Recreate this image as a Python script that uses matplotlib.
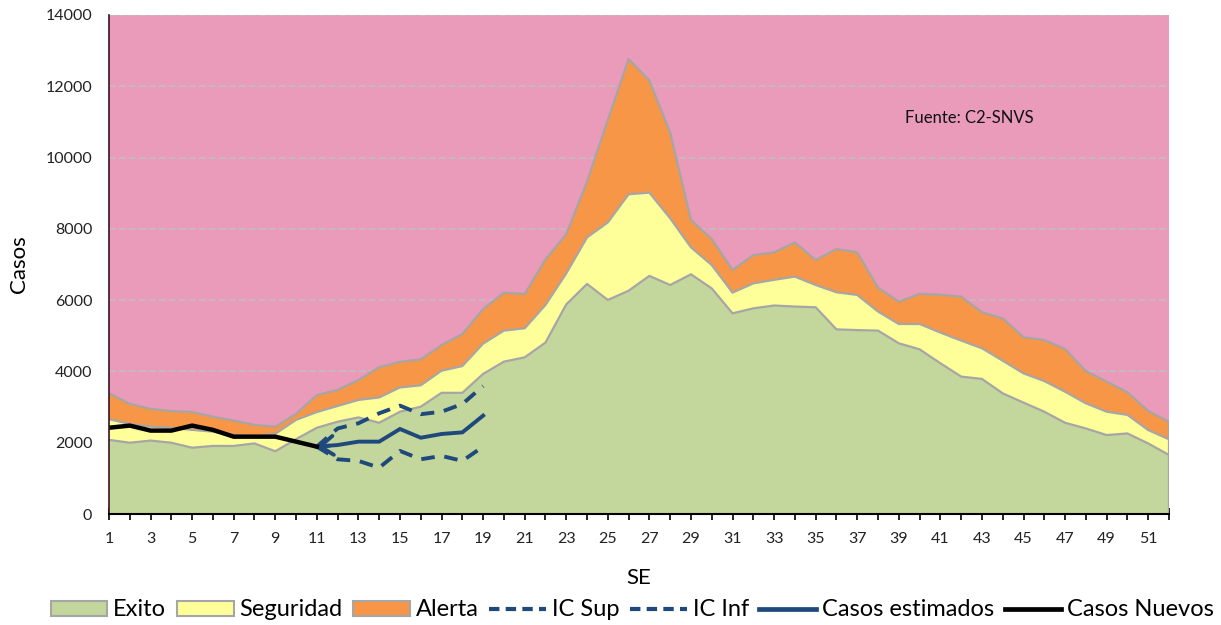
import matplotlib
matplotlib.use("Agg")
import matplotlib.pyplot as plt
from matplotlib.patches import Patch
from matplotlib.lines import Line2D
import numpy as np

# ---------------- data ----------------
weeks = list(range(1, 53))
# upper bounds of each endemic-channel zone (cases)
exito = [2080, 2000, 2060, 2000, 1860, 1910, 1910, 1980, 1760, 2100,
         2420, 2590, 2710, 2560, 2870, 3010, 3400, 3400, 3930, 4275,
         4395, 4810, 5880, 6455, 6005, 6265, 6680, 6425, 6725, 6330,
         5630, 5770, 5850, 5820, 5800, 5180, 5160, 5145, 4790, 4620,
         4230, 3855, 3790, 3385, 3125, 2870, 2560, 2400, 2215, 2260,
         1980, 1655]
seguridad = [2660, 2525, 2450, 2420, 2360, 2310, 2220, 2190, 2250, 2640,
             2860, 3030, 3200, 3270, 3550, 3610, 4020, 4150, 4780, 5145,
             5210, 5865, 6750, 7760, 8180, 8970, 9015, 8295, 7480, 6985,
             6210, 6470, 6570, 6660, 6425, 6220, 6145, 5680, 5330, 5330,
             5090, 4865, 4650, 4300, 3945, 3730, 3430, 3105, 2870, 2780,
             2355, 2095]
alerta = [3390, 3090, 2950, 2890, 2860, 2730, 2620, 2500, 2450, 2810,
          3340, 3480, 3760, 4120, 4270, 4340, 4740, 5050, 5750, 6210,
          6170, 7145, 7850, 9325, 11055, 12765, 12160, 10700, 8250, 7715,
          6845, 7265, 7340, 7620, 7125, 7435, 7340, 6350, 5960, 6175,
          6150, 6100, 5660, 5490, 4960, 4880, 4630, 4010, 3715, 3415,
          2890, 2590]

nuevos_weeks = list(range(1, 12))
casos_nuevos = [2420, 2480, 2340, 2340, 2480, 2360, 2170, 2170, 2170, 2030, 1890]

est_weeks = list(range(11, 20))
casos_estimados = [1890, 1935, 2030, 2030, 2385, 2140, 2245, 2290, 2760]
ic_sup = [1890, 2400, 2545, 2825, 3040, 2800, 2870, 3085, 3590]
ic_inf = [1890, 1535, 1490, 1300, 1770, 1535, 1630, 1490, 1890]

xtick_labels = [str(w) if w % 2 == 1 else "" for w in weeks]
yticks = [0, 2000, 4000, 6000, 8000, 10000, 12000, 14000]

# ---------------- style ----------------
plt.rcParams['font.family'] = ['Lato', 'DejaVu Sans']

C_PINK = '#EA9BBA'
C_GREEN = '#C3D69B'
C_YELLOW = '#FFFF99'
C_ORANGE = '#F79646'
C_EDGE = '#A6A6A6'
C_BLUE = '#1F497D'

fig = plt.figure(figsize=(12.21, 6.25), dpi=100)
ax = fig.add_axes([109/1221, 1-514/625, (1169-109)/1221, (514-15)/625])
ax.set_facecolor(C_PINK)

zero = np.zeros(len(weeks))
ax.fill_between(weeks, zero, exito, facecolor=C_GREEN, edgecolor='none', zorder=2)
ax.fill_between(weeks, exito, seguridad, facecolor=C_YELLOW, edgecolor='none', zorder=2)
ax.fill_between(weeks, seguridad, alerta, facecolor=C_ORANGE, edgecolor='none', zorder=2)
for s in (exito, seguridad, alerta):
    ax.plot(weeks, s, color=C_EDGE, lw=1.6, zorder=3, solid_joinstyle='round')
ax.plot([weeks[-1], weeks[-1]], [0, alerta[-1]], color=C_EDGE, lw=1.6, zorder=3)

# lines
ax.plot(est_weeks, ic_sup, color=C_BLUE, lw=2.8, ls=(0, (3.5, 2.5)), zorder=5)
ax.plot(est_weeks, ic_inf, color=C_BLUE, lw=2.8, ls=(0, (3.5, 2.5)), zorder=5)
ax.plot(est_weeks, casos_estimados, color=C_BLUE, lw=2.8, zorder=5,
        solid_joinstyle='miter')
ax.annotate('', xy=(est_weeks[0], casos_estimados[0]),
            xytext=(est_weeks[0] + 0.6, casos_estimados[0] + 0.6*(casos_estimados[1]-casos_estimados[0])),
            arrowprops=dict(arrowstyle='->, head_length=0.55, head_width=0.4',
                            color=C_BLUE, lw=2.8,
                            mutation_scale=17, shrinkA=0, shrinkB=0),
            zorder=6)
ax.plot(nuevos_weeks, casos_nuevos, color='black', lw=3.2, zorder=6,
        solid_joinstyle='round')

# axes
ax.set_xlim(1, 52)
ax.set_ylim(0, 14000)
ax.set_xticks(weeks)
ax.set_xticklabels(xtick_labels, fontsize=11.5, color='#222222')
ax.set_yticks(yticks)
ax.set_yticklabels([str(v) for v in yticks], fontsize=11.5, color='#222222')
ax.tick_params(axis='x', direction='inout', length=8, width=1.2, pad=9)
ax.tick_params(axis='y', length=0, pad=12)
ax.yaxis.grid(True, color='#BFBFBF', ls=(0, (4, 2)), lw=1.2)
ax.set_axisbelow(True)
for sp in ('top', 'right'):
    ax.spines[sp].set_visible(False)
ax.spines['left'].set_color('#3A1020')
ax.spines['left'].set_linewidth(1.2)
ax.spines['bottom'].set_color('black')
ax.spines['bottom'].set_linewidth(1.5)
ax.spines['left'].set_zorder(7)
ax.spines['bottom'].set_zorder(7)

ax.set_ylabel('Casos', fontsize=16, labelpad=12)
ax.set_xlabel('SE', fontsize=16, labelpad=16)

ax.text(0.812, 0.794, 'Fuente: C2-SNVS', transform=ax.transAxes,
        fontsize=12, ha='center', va='center', color='#111111')

handles = [
    Patch(facecolor=C_GREEN, edgecolor=C_EDGE, lw=1.5, label='Exito'),
    Patch(facecolor=C_YELLOW, edgecolor=C_EDGE, lw=1.5, label='Seguridad'),
    Patch(facecolor=C_ORANGE, edgecolor=C_EDGE, lw=1.5, label='Alerta'),
    Line2D([], [], color=C_BLUE, lw=3.0, ls=(0, (2.5, 1.5)), label='IC Sup'),
    Line2D([], [], color=C_BLUE, lw=3.0, ls=(0, (2.5, 1.5)), label='IC Inf'),
    Line2D([], [], color=C_BLUE, lw=3.4, label='Casos estimados'),
    Line2D([], [], color='black', lw=3.4, label='Casos Nuevos'),
]
fig.legend(handles=handles, loc='center', bbox_to_anchor=(0.518, 0.024),
           ncol=7, frameon=False, fontsize=17, handlelength=2.4,
           handleheight=0.6, handletextpad=0.25, columnspacing=0.45)

fig.savefig('out.png', dpi=100)
